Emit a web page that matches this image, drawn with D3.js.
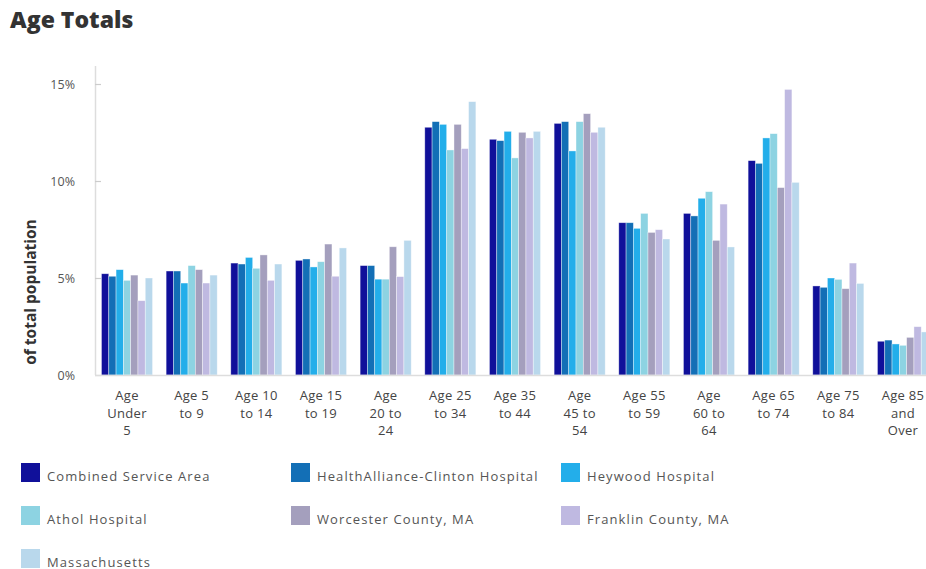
<!DOCTYPE html>
<html>
<head>
<meta charset="utf-8">
<script src="https://cdn.jsdelivr.net/npm/d3@7"></script>
<style>
  html, body { margin: 0; padding: 0; background: #fff; overflow: hidden; }
  svg { display: block; font-family: "Open Sans", "DejaVu Sans", sans-serif; }
</style>
</head>
<body>
<svg id="chart" width="926" height="569"></svg>
<script>
// Age groups (x categories) and their wrapped tick label lines
const categories = [
  "Age Under 5", "Age 5 to 9", "Age 10 to 14", "Age 15 to 19", "Age 20 to 24",
  "Age 25 to 34", "Age 35 to 44", "Age 45 to 54", "Age 55 to 59", "Age 60 to 64",
  "Age 65 to 74", "Age 75 to 84", "Age 85 and Over"
];
const tickLabelLines = [
  ["Age", "Under", "5"], ["Age 5", "to 9"], ["Age 10", "to 14"], ["Age 15", "to 19"],
  ["Age", "20 to", "24"], ["Age 25", "to 34"], ["Age 35", "to 44"], ["Age", "45 to", "54"],
  ["Age 55", "to 59"], ["Age", "60 to", "64"], ["Age 65", "to 74"], ["Age 75", "to 84"],
  ["Age 85", "and", "Over"]
];

// Series names and colours
const seriesNames = [
  "Combined Service Area", "HealthAlliance-Clinton Hospital", "Heywood Hospital",
  "Athol Hospital", "Worcester County, MA", "Franklin County, MA", "Massachusetts"
];
const seriesColors = ["#10109a", "#136fb6", "#23aeea", "#8dd3e2", "#a49fbd", "#bfb9e1", "#b9d8ec"];

// Share of total population (%) per age group, one array per series
const combinedServiceArea = [5.22, 5.36, 5.77, 5.91, 5.64, 12.77, 12.15, 12.97, 7.85, 8.33, 11.05, 4.59, 1.74];
const healthAllianceClinton = [5.09, 5.36, 5.72, 5.98, 5.64, 13.06, 12.08, 13.06, 7.85, 8.20, 10.91, 4.52, 1.80];
const heywoodHospital = [5.43, 4.74, 6.06, 5.57, 4.94, 12.92, 12.56, 11.55, 7.56, 9.11, 12.22, 5.00, 1.60];
const atholHospital = [4.88, 5.64, 5.50, 5.84, 4.94, 11.60, 11.19, 13.06, 8.33, 9.45, 12.44, 4.93, 1.53];
const worcesterCounty = [5.15, 5.43, 6.19, 6.75, 6.61, 12.92, 12.51, 13.47, 7.35, 6.94, 9.66, 4.45, 1.94];
const franklinCounty = [3.83, 4.74, 4.88, 5.09, 5.07, 11.67, 12.22, 12.51, 7.49, 8.81, 14.72, 5.77, 2.49];
const massachusetts = [5.00, 5.15, 5.72, 6.55, 6.94, 14.09, 12.56, 12.77, 7.01, 6.60, 9.93, 4.72, 2.22];

const seriesValues = [
  combinedServiceArea, healthAllianceClinton, heywoodHospital, atholHospital,
  worcesterCounty, franklinCounty, massachusetts
];

const yTickValues = [0, 5, 10, 15];

const svg = d3.select("#chart");
const margin = { left: 95, top: 84, bottom: 375 };

// Scales
const x0 = d3.scaleBand()
  .domain(categories)
  .range([margin.left, 935])
  .paddingInner(0.21)
  .paddingOuter(0.1);

const x1 = d3.scaleBand()
  .domain(d3.range(seriesNames.length))
  .range([0, x0.bandwidth()]);

const y = d3.scaleLinear()
  .domain([0, 15])
  .range([margin.bottom, margin.top]);

// Title
svg.append("text")
  .attr("x", 10)
  .attr("y", 28)
  .attr("font-size", 23)
  .attr("font-weight", 800)
  .attr("fill", "#333")
  .text("Age Totals");

// Y axis
const yAxis = svg.append("g")
  .attr("transform", `translate(${margin.left},0)`)
  .call(d3.axisRight(y).tickValues(yTickValues).tickSize(6).tickFormat(d => d + "%"));
yAxis.select(".domain").attr("stroke", "#ddd").attr("stroke-width", 1.5)
  .attr("d", `M0.5,${margin.top - 18}V${margin.bottom}`);
yAxis.selectAll(".tick line").attr("stroke", "#ccc").attr("stroke-width", 1.2);
yAxis.selectAll(".tick text")
  .attr("x", -20)
  .attr("text-anchor", "end")
  .attr("font-size", 12.5)
  .attr("fill", "#555")
  .attr("font-family", "'Open Sans', sans-serif");

// Y axis title
svg.append("text")
  .attr("transform", "translate(36,292) rotate(-90)")
  .attr("text-anchor", "middle")
  .attr("font-size", 15.5)
  .attr("font-weight", 700)
  .attr("fill", "#333")
  .text("of total population");

// Bars
const groups = svg.append("g")
  .selectAll("g")
  .data(categories)
  .join("g")
  .attr("transform", d => `translate(${x0(d)},0)`);

groups.selectAll("rect")
  .data((d, i) => seriesValues.map((vals, s) => ({ s, v: vals[i] })))
  .join("rect")
  .attr("x", d => x1(d.s))
  .attr("y", d => y(d.v))
  .attr("width", x1.bandwidth())
  .attr("height", d => y(0) - y(d.v))
  .attr("fill", d => seriesColors[d.s])
  .attr("stroke", "#fff")
  .attr("stroke-opacity", 0.55)
  .attr("stroke-width", 0.7);

// X axis line
svg.append("line")
  .attr("x1", margin.left)
  .attr("x2", 936)
  .attr("y1", margin.bottom + 0.5)
  .attr("y2", margin.bottom + 0.5)
  .attr("stroke", "#ddd")
  .attr("stroke-width", 1.5);

// X tick labels (wrapped)
const xLabels = svg.append("g")
  .selectAll("text")
  .data(categories)
  .join("text")
  .attr("x", d => x0(d) + x0.bandwidth() / 2)
  .attr("y", 400)
  .attr("text-anchor", "middle")
  .attr("font-size", 13)
  .attr("fill", "#444")
  .attr("letter-spacing", 0.3);
xLabels.selectAll("tspan")
  .data((d, i) => tickLabelLines[i])
  .join("tspan")
  .attr("x", function () { return d3.select(this.parentNode).attr("x"); })
  .attr("dy", (d, j) => j === 0 ? 0 : 17.5)
  .text(d => d);

// Legend: three columns
const legendCols = [21, 291, 561];
const legendRows = [463, 506, 549];
const legend = svg.append("g")
  .selectAll("g")
  .data(seriesNames)
  .join("g")
  .attr("transform", (d, i) => `translate(${legendCols[i % 3]},${legendRows[Math.floor(i / 3)]})`);
legend.append("rect")
  .attr("width", 19)
  .attr("height", 19)
  .attr("fill", (d, i) => seriesColors[i]);
legend.append("text")
  .attr("x", 26)
  .attr("y", 17.5)
  .attr("font-size", 13)
  .attr("fill", "#555")
  .attr("letter-spacing", 1.1)
  .text(d => d);
</script>
</body>
</html>
